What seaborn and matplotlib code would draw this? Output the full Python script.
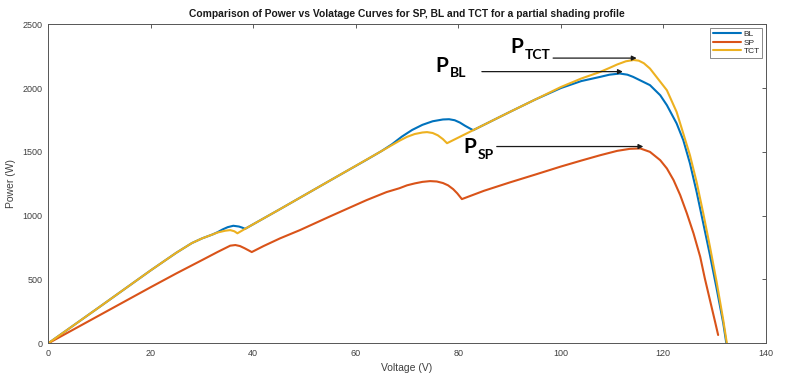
import numpy as np
import pandas as pd
import matplotlib
matplotlib.use("Agg")
import matplotlib.pyplot as plt
import seaborn as sns

# Power vs voltage readings (V, W) for each connection scheme
bl_v = [0, 10, 20, 25, 28, 30, 32, 33, 34, 35, 36.1, 37.2, 37.8, 38.4, 45.2, 55.6, 62, 65, 67, 69, 71,
        73, 75, 77, 78.2, 79.3, 80.3, 81.3, 82.2, 82.9, 90, 95, 100, 104, 107.7, 109.5, 111.5, 113, 114.1,
        117.4, 119.4, 120.7, 122.6, 123.9, 125.2, 126.5, 127.8, 129.1, 130.4, 131.7, 132.3]
bl_p = [0, 285, 572, 710, 785, 822, 852, 870, 892, 910, 921, 915, 907, 897, 1051, 1290, 1436, 1506, 1558, 1620, 1672,
        1712, 1740, 1754, 1756, 1748, 1730, 1705, 1685, 1670, 1812, 1910, 2000, 2055, 2088, 2105, 2114, 2105, 2088,
        2023, 1944, 1866, 1723, 1592, 1410, 1187, 940, 692, 430, 157, 0]

sp_v = [0, 10, 20, 25, 30, 33, 34.5, 35.5, 36.5, 37.4, 38.3, 39.7, 42, 45.2, 49.1, 55, 62.1, 66, 68.5, 70,
        71.5, 73, 74.5, 75.8, 77, 78, 79, 79.8, 80.7, 85, 90, 95, 100, 104, 107.7, 111, 113.5, 115.5, 117.4,
        119.4, 120.7, 122, 123.3, 124.6, 125.9, 127.2, 128.1, 129.1, 130.1, 130.7]
sp_p = [0, 220, 440, 548, 652, 715, 745, 765, 770, 762, 745, 715, 762, 822, 887, 995, 1122, 1185, 1215, 1238,
        1253, 1265, 1271, 1268, 1256, 1238, 1208, 1175, 1130, 1195, 1260, 1322, 1385, 1432, 1474, 1508, 1524, 1527, 1500,
        1435, 1370, 1279, 1161, 1018, 861, 678, 509, 339, 169, 65]

tct_v = [0, 10, 20, 25, 28, 30, 32, 33, 34.5, 35.5, 36.3, 36.9, 38.4, 45.2, 55.6, 65, 68.6, 70, 71.5, 73,
         73.9, 75, 76, 77, 77.8, 80, 82.9, 90, 95, 100, 104, 107.7, 109.5, 111, 112.7, 114.2, 115.2, 116.2,
         117.4, 120.7, 122.6, 123.9, 125.2, 126.5, 127.8, 129.1, 130.4, 131.7, 132.4]
tct_p = [0, 285, 572, 710, 785, 822, 852, 868, 882, 887, 878, 862, 897, 1051, 1290, 1506, 1589, 1618, 1640, 1652,
         1655, 1648, 1630, 1600, 1568, 1612, 1670, 1812, 1910, 2008, 2075, 2127, 2158, 2185, 2210, 2220, 2215, 2195,
         2153, 1983, 1813, 1644, 1474, 1264, 1018, 757, 482, 182, 0]

series = ["BL", "SP", "TCT"]
colors = {"BL": "#0072BD", "SP": "#D95319", "TCT": "#EDB120"}
xticks = [0, 20, 40, 60, 80, 100, 120, 140]
yticks = [0, 500, 1000, 1500, 2000, 2500]

df = pd.concat([
    pd.DataFrame({"Voltage": bl_v, "Power": bl_p, "Scheme": "BL"}),
    pd.DataFrame({"Voltage": sp_v, "Power": sp_p, "Scheme": "SP"}),
    pd.DataFrame({"Voltage": tct_v, "Power": tct_p, "Scheme": "TCT"}),
], ignore_index=True)

sns.set_style("white")
plt.rcParams["font.family"] = ["Liberation Sans", "DejaVu Sans"]

fig = plt.figure(figsize=(7.93, 3.8), dpi=100)
ax = fig.add_axes([0.0609, 0.0966, 0.9048, 0.8395])

sns.lineplot(data=df, x="Voltage", y="Power", hue="Scheme", hue_order=series, palette=colors,
             estimator=None, sort=False, linewidth=1.5, ax=ax)

ax.set_xlim(0, 140)
ax.set_ylim(0, 2500)
ax.set_xticks(xticks)
ax.set_yticks(yticks)
ax.tick_params(direction="in", length=3, width=0.6, top=True, right=True,
               labelsize=6.5, labelcolor="#404040", color="#404040", pad=4)
for s in ax.spines.values():
    s.set_color("#555555")
    s.set_linewidth(0.7)

ax.set_xlabel("Voltage (V)", fontsize=7.5, color="#404040", labelpad=4)
ax.set_ylabel("Power (W)", fontsize=7.5, color="#404040", labelpad=5)
ax.set_title("Comparison of Power vs Volatage Curves for SP, BL and TCT for a partial shading profile",
             fontsize=7.4, fontweight="bold", color="#1a1a1a", pad=5)

leg = ax.legend(loc="upper right", fontsize=6, frameon=True, fancybox=False, handlelength=3.4,
                borderaxespad=0.4, labelspacing=0.1, handletextpad=0.3, borderpad=0.3)
leg.get_frame().set_edgecolor("#555555")
leg.get_frame().set_linewidth(0.6)
for t in leg.get_texts():
    t.set_color("#262626")

# maximum power point labels with arrows
ann_font = ["Lato", "DejaVu Sans"]
labels = {
    "TCT": (tct_v, tct_p, 90.1, 2273, 98.5),
    "BL": (bl_v, bl_p, 75.5, 2125, 84.6),
    "SP": (sp_v, sp_p, 80.9, 1490, 87.5),
}
for name, (vv, pp, tx, ty, ax0) in labels.items():
    i = int(np.argmax(pp))
    yy = pp[i] + 15
    ax.annotate("", xy=(vv[i] + 0.6, yy), xytext=(ax0, yy),
                arrowprops=dict(arrowstyle="-|>", color="#1a1a1a", lw=0.9,
                                mutation_scale=7, shrinkA=0, shrinkB=0))
    ax.text(tx, ty, "P", fontsize=15, fontweight="bold", family=ann_font, color="black",
            ha="left", va="baseline")
    ax.text(tx + 2.9, ty - 42, name, fontsize=10, fontweight="bold", family=ann_font, color="black",
            ha="left", va="baseline")

fig.savefig("out.png", dpi=100)
